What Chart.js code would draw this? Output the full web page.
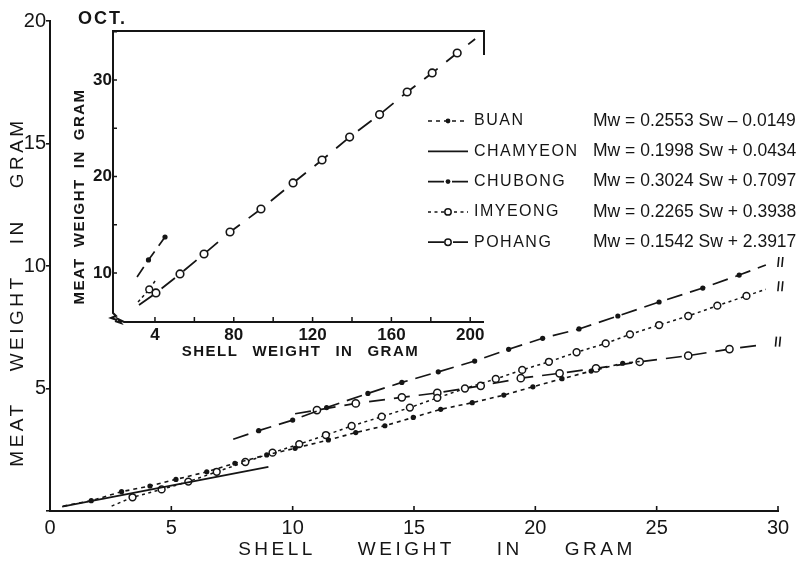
<!DOCTYPE html>
<html>
<head>
<meta charset="utf-8">
<script src="https://cdn.jsdelivr.net/npm/chart.js@4.4.0/dist/chart.umd.min.js"></script>
<style>
  html, body { margin: 0; padding: 0; background: #fff; }
  #wrap { position: relative; width: 812px; height: 561px; overflow: hidden; }
  #main { position: absolute; left: 0; top: 0; }
  #inset { position: absolute; left: 60px; top: 0; }
</style>
</head>
<body>
<div id="wrap">
  <canvas id="main" width="812" height="561"></canvas>
  <canvas id="inset" width="440" height="370"></canvas>
</div>
<script>
// shell weight (Sw) and meat weight (Mw), grams
var buanSw = [0.55, 1.7, 2.95, 4.12, 5.19, 6.46, 7.62, 8.93, 10.1, 11.47, 12.6, 13.8, 14.97, 16.1, 17.4, 18.7, 19.9, 21.1, 22.3, 23.6, 24.3];
var buanMw = [0.2, 0.42, 0.79, 1.02, 1.29, 1.6, 1.95, 2.29, 2.56, 2.9, 3.2, 3.48, 3.82, 4.15, 4.42, 4.73, 5.07, 5.4, 5.71, 6.03, 6.1];

var chamyeonSw = [0.5, 9.0];
var chamyeonMw = [0.18, 1.8];

var chubongSw = [7.55, 8.6, 10.0, 11.4, 13.1, 14.5, 16.0, 17.5, 18.9, 20.3, 21.8, 23.4, 25.1, 26.9, 28.4, 29.5];
var chubongMw = [2.93, 3.28, 3.71, 4.22, 4.8, 5.25, 5.68, 6.12, 6.6, 7.05, 7.43, 7.96, 8.53, 9.1, 9.63, 10.04];

var imyeongSw = [2.54, 3.4, 4.6, 5.7, 6.87, 8.05, 9.17, 10.27, 11.37, 12.43, 13.67, 14.83, 15.96, 17.1, 18.37, 19.46, 20.56, 21.7, 22.9, 23.9, 25.1, 26.3, 27.5, 28.7, 29.5];
var imyeongMw = [0.2, 0.56, 0.88, 1.2, 1.6, 2.0, 2.38, 2.73, 3.1, 3.47, 3.85, 4.22, 4.62, 5.0, 5.39, 5.76, 6.09, 6.48, 6.84, 7.21, 7.59, 7.96, 8.38, 8.78, 9.05];

var pohangSw = [10.1, 11.0, 12.6, 14.5, 15.96, 17.75, 19.4, 21.0, 22.5, 24.3, 26.3, 28.0, 29.4];
var pohangMw = [3.97, 4.12, 4.39, 4.64, 4.82, 5.11, 5.42, 5.62, 5.82, 6.09, 6.34, 6.61, 6.79];

// inset, large shells
var insetPohangSw = [31.9, 40.5, 52.7, 64.9, 78.1, 93.8, 110.1, 124.8, 138.8, 154.0, 168.0, 180.7, 193.4, 202.5];
var insetPohangMw = [6.68, 7.93, 9.9, 11.97, 14.25, 16.63, 19.33, 21.71, 24.09, 26.42, 28.76, 30.73, 32.8, 34.25];
var insetChubongSw = [30.9, 36.7, 45.1];
var insetChubongMw = [9.59, 11.35, 13.73];
var insetImyeongSw = [31.4, 37.1, 40.5];
var insetImyeongMw = [7.0, 8.3, 9.3];

// ticks
var mainXTicks = [0, 5, 10, 15, 20, 25, 30];
var mainXTickLabels = ['0', '5', '10', '15', '20', '25', '30'];
var mainYTicks = [0, 5, 10, 15, 20];
var mainYTickLabels = ['', '5', '10', '15', '20'];
var insetXTicks = [40, 80, 120, 160, 200];
var insetXTickLabels = ['4', '80', '120', '160', '200'];
var insetYTicks = [10, 20, 30];
var insetYTickLabels = ['10', '20', '30'];

// legend
var legendNames = ['BUAN', 'CHAMYEON', 'CHUBONG', 'IMYEONG', 'POHANG'];
var legendEquations = [
  'Mw = 0.2553 Sw \u2013 0.0149',
  'Mw = 0.1998 Sw + 0.0434',
  'Mw = 0.3024 Sw + 0.7097',
  'Mw = 0.2265 Sw + 0.3938',
  'Mw = 0.1542 Sw + 2.3917'
];

var ink = '#151515';
var face = "'Liberation Sans', Arial, sans-serif";

function series(xs, ys) {
	return xs.map(function(x, i) { return {x: x, y: ys[i]}; });
}

// marker size, with no marker on the bare line ends
function markers(r, bareStart, bareEnd) {
	return function(c) {
		var n = c.dataset.data.length;
		if (bareStart && c.dataIndex === 0) return 0;
		if (bareEnd && c.dataIndex === n - 1) return 0;
		return r;
	};
}

function tickLabel(ticks, labels) {
	return function(v) {
		var i = ticks.indexOf(v);
		return i < 0 ? '' : labels[i];
	};
}

function spacedWords(ctx, words, cx, cy, gap) {
	var widths = words.map(function(w) { return ctx.measureText(w).width; });
	var total = widths.reduce(function(s, w) { return s + w; }, 0) + gap * (words.length - 1);
	var px = cx - total / 2;
	ctx.textAlign = 'left';
	ctx.textBaseline = 'middle';
	words.forEach(function(w, i) {
		ctx.fillText(w, px, cy);
		px += widths[i] + gap;
	});
}

function drawMarker(ctx, kind, x, y, r) {
	if (!kind) return;
	ctx.save();
	ctx.setLineDash([]);
	ctx.beginPath();
	ctx.arc(x, y, r, 0, Math.PI * 2);
	if (kind === 'dot') {
		ctx.fillStyle = ink;
		ctx.fill();
	} else {
		ctx.fillStyle = '#fff';
		ctx.fill();
		ctx.lineWidth = 1.5;
		ctx.strokeStyle = ink;
		ctx.stroke();
	}
	ctx.restore();
}

function inwardTicks(ctx, scale, a, len, vertical) {
	ctx.beginPath();
	scale.ticks.forEach(function(t) {
		var p = scale.getPixelForValue(t.value);
		if (vertical) {
			ctx.moveTo(a.left, p); ctx.lineTo(a.left + len, p);
		} else {
			ctx.moveTo(p, a.bottom); ctx.lineTo(p, a.bottom - len);
		}
	});
	ctx.stroke();
}

var mainDatasets = [
	{ label: 'BUAN', data: series(buanSw, buanMw), mark: 'dot',
	  borderDash: [4, 4], borderWidth: 1.6,
	  pointRadius: markers(2.6, true, true), pointBackgroundColor: ink, pointBorderWidth: 0 },
	{ label: 'CHAMYEON', data: series(chamyeonSw, chamyeonMw), mark: null,
	  borderDash: [], borderWidth: 1.8, pointRadius: 0 },
	{ label: 'CHUBONG', data: series(chubongSw, chubongMw), mark: 'dot', broken: true,
	  borderDash: [16, 8], borderWidth: 1.7,
	  pointRadius: markers(2.6, true, true), pointBackgroundColor: ink, pointBorderWidth: 0 },
	{ label: 'IMYEONG', data: series(imyeongSw, imyeongMw), mark: 'ring', broken: true,
	  borderDash: [3, 3.5], borderWidth: 1.5,
	  pointRadius: markers(3.4, true, true), pointBackgroundColor: '#fff', pointBorderColor: ink, pointBorderWidth: 1.5 },
	{ label: 'POHANG', data: series(pohangSw, pohangMw), mark: 'ring', broken: true,
	  borderDash: [16, 9], borderWidth: 1.7,
	  pointRadius: markers(3.6, true, true), pointBackgroundColor: '#fff', pointBorderColor: ink, pointBorderWidth: 1.5 }
];
mainDatasets.forEach(function(d) {
	d.showLine = true;
	d.borderColor = ink;
	d.fill = false;
	d.tension = 0;
});

var mainDecor = {
	id: 'mainDecor',
	afterDraw: function(chart) {
		var ctx = chart.ctx, a = chart.chartArea, x = chart.scales.x, y = chart.scales.y;
		ctx.save();
		ctx.strokeStyle = ink;
		ctx.fillStyle = ink;
		ctx.lineWidth = 1.6;
		inwardTicks(ctx, x, a, 5, false);

		// break marks past the line ends
		chart.data.datasets.forEach(function(d) {
			if (!d.broken) return;
			var last = d.data[d.data.length - 1];
			var px = x.getPixelForValue(last.x) + 13, py = y.getPixelForValue(last.y) - 3;
			ctx.beginPath();
			ctx.moveTo(px - 1, py + 5); ctx.lineTo(px, py - 5);
			ctx.moveTo(px + 3, py + 5); ctx.lineTo(px + 4, py - 5);
			ctx.stroke();
		});

		// axis titles
		ctx.font = '19px ' + face;
		ctx.letterSpacing = '3.5px';
		spacedWords(ctx, ['SHELL', 'WEIGHT', 'IN', 'GRAM'], (a.left + a.right) / 2 + 23, a.bottom + 39, 42);
		ctx.save();
		ctx.translate(a.left - 32, (a.top + a.bottom) / 2 + 26);
		ctx.rotate(-Math.PI / 2);
		spacedWords(ctx, ['MEAT', 'WEIGHT', 'IN', 'GRAM'], 0, 0, 30);
		ctx.restore();

		ctx.font = 'bold 18px ' + face;
		ctx.letterSpacing = '2px';
		ctx.textAlign = 'left';
		ctx.textBaseline = 'middle';
		ctx.fillText('OCT.', 78, 19);

		// legend
		var rowY = 121, rowStep = 30.3;
		chart.data.datasets.forEach(function(d, i) {
			var ly = rowY + i * rowStep;
			ctx.save();
			ctx.lineWidth = d.borderWidth;
			ctx.setLineDash(d.borderDash);
			ctx.beginPath();
			ctx.moveTo(428, ly); ctx.lineTo(468, ly);
			ctx.stroke();
			ctx.restore();
			drawMarker(ctx, d.mark, 448, ly, d.mark === 'dot' ? 2.4 : 3.2);
			ctx.font = '16px ' + face;
			ctx.letterSpacing = '1.5px';
			ctx.fillText(legendNames[i], 474, ly);
			ctx.font = '17.5px ' + face;
			ctx.letterSpacing = '0px';
			ctx.fillText(legendEquations[i], 593, ly);
		});
		ctx.restore();
	}
};

new Chart(document.getElementById('main'), {
	type: 'scatter',
	data: { datasets: mainDatasets },
	options: {
		responsive: false,
		animation: false,
		devicePixelRatio: 1,
		layout: { padding: { left: 0, top: 21, right: 34, bottom: 0 } },
		plugins: { legend: { display: false }, tooltip: { enabled: false } },
		scales: {
			x: {
				type: 'linear', min: 0, max: 30,
				afterFit: function(s) { s.height = 50; },
				afterBuildTicks: function(s) { s.ticks = mainXTicks.map(function(v) { return {value: v}; }); },
				grid: { display: false, drawTicks: false },
				border: { display: true, color: ink, width: 2 },
				ticks: { color: ink, padding: 5, font: { family: face, size: 20 },
				         callback: tickLabel(mainXTicks, mainXTickLabels) }
			},
			y: {
				type: 'linear', min: 0, max: 20,
				afterFit: function(s) { s.width = 50; },
				afterBuildTicks: function(s) { s.ticks = mainYTicks.map(function(v) { return {value: v}; }); },
				grid: { display: true, drawOnChartArea: false, drawTicks: true, tickLength: 4, color: ink, lineWidth: 1.6 },
				border: { display: true, color: ink, width: 2 },
				ticks: { color: ink, padding: 0, font: { family: face, size: 20 },
				         callback: tickLabel(mainYTicks, mainYTickLabels) }
			}
		}
	},
	plugins: [mainDecor]
});

// inset: Pohang over the full size range
var insetDatasets = [
	{ data: series(insetChubongSw, insetChubongMw), borderDash: [12, 7], borderWidth: 1.7,
	  pointRadius: markers(2.6, true, false), pointBackgroundColor: ink, pointBorderWidth: 0 },
	{ data: series(insetImyeongSw, insetImyeongMw), borderDash: [3, 3], borderWidth: 1.5,
	  pointRadius: markers(3.4, true, true), pointBackgroundColor: '#fff', pointBorderColor: ink, pointBorderWidth: 1.5 },
	{ data: series(insetPohangSw, insetPohangMw), borderDash: [17, 11], borderWidth: 1.8,
	  pointRadius: markers(3.8, true, true), pointBackgroundColor: '#fff', pointBorderColor: ink, pointBorderWidth: 1.6 }
];
insetDatasets.forEach(function(d) {
	d.showLine = true;
	d.borderColor = ink;
	d.fill = false;
	d.tension = 0;
});

var insetDecor = {
	id: 'insetDecor',
	afterDraw: function(chart) {
		var ctx = chart.ctx, a = chart.chartArea;
		ctx.save();
		ctx.strokeStyle = ink;
		ctx.fillStyle = ink;
		ctx.lineWidth = 2;
		ctx.lineJoin = 'miter';
		// frame: top rule with a short right side, and the broken corner
		ctx.beginPath();
		ctx.moveTo(a.right, a.top + 24);
		ctx.lineTo(a.right, a.top);
		ctx.lineTo(a.left, a.top);
		ctx.lineTo(a.left, a.bottom - 9);
		ctx.lineTo(a.left + 3, a.bottom - 6);
		ctx.lineTo(a.left - 2, a.bottom - 4);
		ctx.lineTo(a.left + 4, a.bottom - 2);
		ctx.stroke();
		ctx.beginPath();
		ctx.moveTo(a.left + 2, a.bottom - 1);
		ctx.lineTo(a.left + 8, a.bottom + 1);
		ctx.lineTo(a.left + 5, a.bottom - 3);
		ctx.lineTo(a.left + 11, a.bottom);
		ctx.lineTo(a.right, a.bottom);
		ctx.stroke();

		ctx.lineWidth = 1.5;
		inwardTicks(ctx, chart.scales.x, a, 5, false);
		inwardTicks(ctx, chart.scales.y, a, 4, true);

		ctx.font = 'bold 15px ' + face;
		ctx.letterSpacing = '1.5px';
		spacedWords(ctx, ['SHELL', 'WEIGHT', 'IN', 'GRAM'], (a.left + a.right) / 2 + 2, a.bottom + 30, 14);
		ctx.save();
		ctx.translate(a.left - 33, (a.top + a.bottom) / 2 + 20);
		ctx.rotate(-Math.PI / 2);
		spacedWords(ctx, ['MEAT', 'WEIGHT', 'IN', 'GRAM'], 0, 0, 10);
		ctx.restore();
		ctx.restore();
	}
};

new Chart(document.getElementById('inset'), {
	type: 'scatter',
	data: { datasets: insetDatasets },
	options: {
		responsive: false,
		animation: false,
		devicePixelRatio: 1,
		layout: { padding: { left: 0, top: 31, right: 16, bottom: 0 } },
		plugins: { legend: { display: false }, tooltip: { enabled: false } },
		scales: {
			x: {
				type: 'linear', min: 18.7, max: 207,
				afterFit: function(s) { s.height = 48; },
				afterBuildTicks: function(s) {
					var t = [];
					for (var v = 40; v <= 200; v += 20) t.push({value: v});
					s.ticks = t;
				},
				grid: { display: false, drawTicks: false },
				border: { display: false },
				ticks: { color: ink, padding: 3, autoSkip: false, maxRotation: 0,
				         font: { family: face, size: 17, weight: 'bold' },
				         callback: tickLabel(insetXTicks, insetXTickLabels) }
			},
			y: {
				type: 'linear', min: 4.92, max: 35.08,
				afterFit: function(s) { s.width = 53; },
				afterBuildTicks: function(s) {
					var t = [];
					for (var v = 10; v <= 35; v += 5) t.push({value: v});
					s.ticks = t;
				},
				grid: { display: false, drawTicks: false },
				border: { display: false },
				ticks: { color: ink, padding: 1, autoSkip: false,
				         font: { family: face, size: 17, weight: 'bold' },
				         callback: tickLabel(insetYTicks, insetYTickLabels) }
			}
		}
	},
	plugins: [insetDecor]
});
</script>
</body>
</html>
